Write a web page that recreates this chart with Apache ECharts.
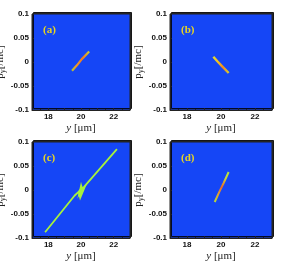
<!DOCTYPE html>
<html><head><meta charset="utf-8">
<script src="https://cdn.jsdelivr.net/npm/echarts@6/dist/echarts.min.js"></script>
<style>html,body{margin:0;padding:0;background:#fff}#c{width:298px;height:263px}</style>
</head><body><div id="c"></div>
<script>
// Data (y in µm, p_y in /mc)
var panelLabels = ['(a)', '(b)', '(c)', '(d)'];
var xTicks = [18, 20, 22];
var yTicks = [-0.1, -0.05, 0, 0.05, 0.1];
var seriesA = [[19.45, -0.018], [19.75, -0.007], [20.05, 0.006], [20.5, 0.022]];
var seriesB = [[19.55, 0.011], [19.8, 0.001], [20.1, -0.01], [20.45, -0.023]];
var seriesC = [[17.8, -0.088], [19.6, -0.012], [19.85, -0.004], [20.0, 0.002], [20.2, 0.007], [22.2, 0.085]];
var flapC1 = [[19.78, -0.018], [20.0, 0.017], [20.13, 0.002]];
var flapC2 = [[19.94, -0.022], [20.36, 0.0125], [19.82, -0.006]];
var seriesD = [[19.63, -0.025], [19.9, -0.004], [20.15, 0.014], [20.45, 0.0375]];

var grids = [
  {left: 32, top: 14, width: 98, height: 96},
  {left: 170, top: 14, width: 102, height: 96},
  {left: 32, top: 142, width: 98, height: 96},
  {left: 170, top: 142, width: 102, height: 96}
];
var labelPos = [[38, 20], [176, 20], [38, 148], [176, 148]];
var BLUE = '#1546f6';

var chart = echarts.init(document.getElementById('c'), null, {renderer: 'canvas'});
var option = {
  animation: false,
  backgroundColor: '#fff',
  title: panelLabels.map(function (t, i) {
    return {text: t, left: labelPos[i][0], top: labelPos[i][1],
      textStyle: {color: '#e6d424', fontFamily: 'Liberation Serif', fontWeight: 'bold', fontSize: 11}};
  }),
  grid: grids.map(function (g) {
    return Object.assign({show: true, containLabel: false, outerBoundsMode: 'none', backgroundColor: BLUE, borderColor: '#222', borderWidth: 1,
      shadowColor: 'rgba(0,0,0,0.85)', shadowBlur: 0, shadowOffsetX: 1.5, shadowOffsetY: -1.5}, g);
  }),
  xAxis: grids.map(function (g, i) {
    return {
      type: 'value', gridIndex: i, min: 17, max: 23, interval: 1,
      name: '{i|y}{n| [μm]}', nameLocation: 'middle', nameGap: 13,
      nameTextStyle: {rich: {
        i: {fontFamily: 'Liberation Serif', fontStyle: 'italic', fontSize: 11, color: '#222'},
        n: {fontFamily: 'Liberation Serif', fontSize: 11, color: '#222'}}},
      axisLine: {show: true, onZero: false, lineStyle: {color: '#222', width: 1}},
      axisTick: {show: true, inside: true, length: 2, lineStyle: {color: '#222'}},
      minorTick: {show: true, splitNumber: 2, length: 1, lineStyle: {color: '#222'}},
      splitLine: {show: false},
      axisLabel: {margin: 3, fontFamily: 'Liberation Sans', fontWeight: 'bold', fontSize: 8, color: '#111',
        formatter: function (v) { return xTicks.indexOf(v) >= 0 ? String(v) : ''; }}
    };
  }),
  yAxis: grids.map(function (g, i) {
    return {
      type: 'value', gridIndex: i, min: -0.1, max: 0.1, interval: 0.05,
      name: '{p|p}{s|y}{p|[/mc]}', nameLocation: 'middle', nameGap: 15,
      nameTextStyle: {rich: {
        p: {fontFamily: 'Liberation Serif', fontSize: 11, color: '#222'},
        s: {fontFamily: 'Liberation Serif', fontSize: 8, color: '#222', verticalAlign: 'bottom', padding: [6, 0, 0, 0]}}},
      axisLine: {show: true, onZero: false, lineStyle: {color: '#222', width: 1}},
      axisTick: {show: true, inside: true, length: 2, lineStyle: {color: '#222'}},
      minorTick: {show: true, splitNumber: 5, length: 1, lineStyle: {color: '#222'}},
      splitLine: {show: false},
      axisLabel: {margin: 3, fontFamily: 'Liberation Sans', fontWeight: 'bold', fontSize: 8, color: '#111',
        formatter: function (v) {
          var r = Math.round(v * 100) / 100;
          return yTicks.indexOf(r) >= 0 ? String(r) : '';
        }}
    };
  }),
  series: [
    {type: 'line', xAxisIndex: 0, yAxisIndex: 0, data: seriesA, symbol: 'none',
      lineStyle: {width: 2.2, color: {type: 'linear', x: 0, y: 0, x2: 1, y2: 0, colorStops: [
        {offset: 0, color: '#8fe03a'}, {offset: 0.3, color: '#f09a28'}, {offset: 0.6, color: '#f07a20'}, {offset: 1, color: '#b8ec3a'}]}}},
    {type: 'line', xAxisIndex: 1, yAxisIndex: 1, data: seriesB, symbol: 'none',
      lineStyle: {width: 2.4, color: {type: 'linear', x: 0, y: 0, x2: 1, y2: 0, colorStops: [
        {offset: 0, color: '#d8e83a'}, {offset: 0.35, color: '#f0c020'}, {offset: 0.6, color: '#f08a20'}, {offset: 1, color: '#c8e83a'}]}}},
    {type: 'line', xAxisIndex: 2, yAxisIndex: 2, data: seriesC, symbol: 'none',
      lineStyle: {width: 1.8, color: '#a6f23c'}},
    {type: 'custom', xAxisIndex: 2, yAxisIndex: 2, data: [0],
      renderItem: function (params, api) {
        var p1 = flapC1.map(function (d) { return api.coord(d); });
        var p2 = flapC2.map(function (d) { return api.coord(d); });
        return {type: 'group', children: [
          {type: 'polygon', shape: {points: p1}, style: {fill: '#a6f23c'}},
          {type: 'polygon', shape: {points: p2}, style: {fill: '#a6f23c'}}
        ]};
      }},
    {type: 'line', xAxisIndex: 3, yAxisIndex: 3, data: seriesD, symbol: 'none',
      lineStyle: {width: 2, color: {type: 'linear', x: 0, y: 1, x2: 0, y2: 0, colorStops: [
        {offset: 0, color: '#a8ec3a'}, {offset: 0.3, color: '#e0a030'}, {offset: 0.5, color: '#e86a28'}, {offset: 0.75, color: '#c8d83a'}, {offset: 1, color: '#a8ec3a'}]}}}
  ]
};
chart.setOption(option);
</script>
</body></html>
